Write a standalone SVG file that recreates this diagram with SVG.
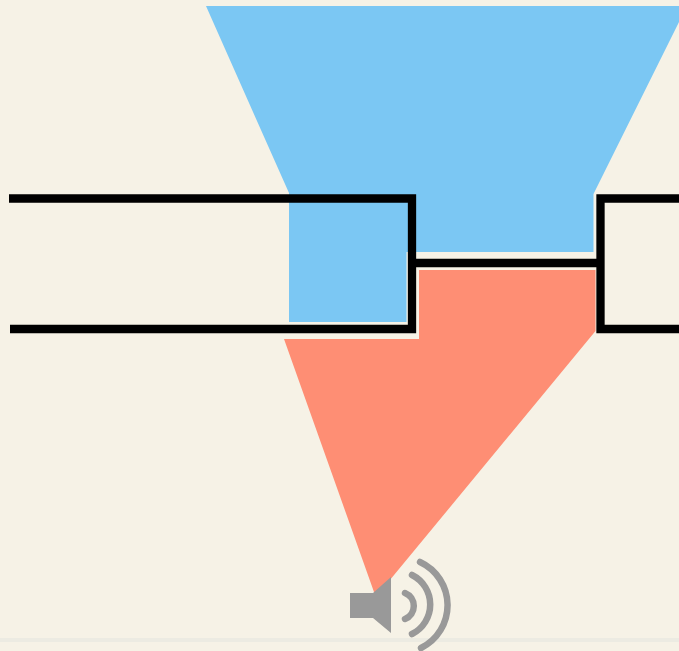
<svg xmlns="http://www.w3.org/2000/svg" width="679" height="651" viewBox="0 0 679 651">
<style>
.wall{fill:none;stroke:#000;stroke-width:8.300;stroke-linejoin:miter;stroke-linecap:butt}
.wave{fill:none;stroke:#999;stroke-width:6.500;stroke-linecap:round}
</style>
<rect width="679" height="651" fill="#f6f2e6"/>
<rect x="0" y="638" width="679" height="4" fill="#ecebe2"/>
<polygon id="blue-zone" fill="#7bc7f3" points="206,6 679,6 679,22 593.500,194 593.500,252 416,252 416,204 408,204 408,252 406.500,252 406.500,322 289,322 289,193"/>
<polygon id="salmon-zone" fill="#fe8e74" points="284,339 419,339 419,270 595.500,270 595.500,331 380,592 374,592"/>
<g id="speaker">
<polygon fill="#999" points="350,593 373,593 391,577 391,633 373,618 350,618"/>
<path class="wave" d="M405,593 A14,14 0 0 1 405,619"/>
<path class="wave" d="M412,575 A33,33 0 0 1 412,634"/>
<path class="wave" d="M420,562 A47.700,47.700 0 0 1 421,648"/>
</g>
<g id="walls">
<path class="wall" d="M9,198.500 H412 V329 H10"/>
<path class="wall" d="M416,263 H600"/>
<path class="wall" d="M679,198.500 H600.500 V329 H679"/>
</g>
</svg>
